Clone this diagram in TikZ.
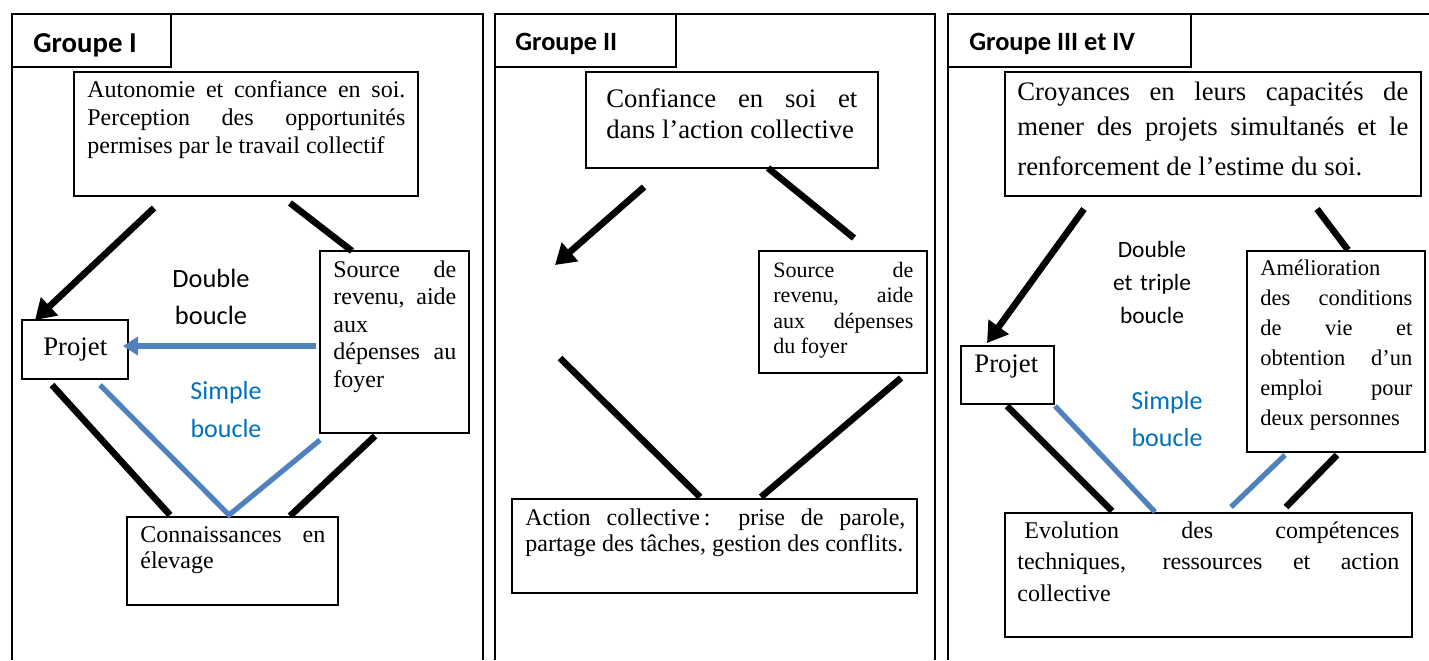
\documentclass[tikz,border=0pt]{standalone}
\usepackage{fontspec}
\setmainfont{Liberation Serif}
\newfontfamily\carlito{Carlito}
\usetikzlibrary{arrows.meta,fit}
\definecolor{lineblue}{HTML}{4F81BD}
\definecolor{textblue}{HTML}{0070C0}
\hyphenpenalty=10000 \exhyphenpenalty=10000 \tolerance=10000 \hbadness=10000
\tikzset{
  frameline/.style={line width=0.75pt},
  boxst/.style={draw, line width=0.8pt, inner sep=0pt, outer sep=0pt},
  txt/.style={anchor=base west, inner sep=0pt, align=justify},
  titletxt/.style={anchor=base west, inner sep=0pt, font={\carlito\bfseries\fontsize{13.2}{16}\selectfont}},
  lbl/.style={anchor=base, inner sep=0pt, align=center, text width=60pt},
  conn/.style={line width=3.3pt},
  bconn/.style={line width=2.6pt, draw=lineblue},
  arr/.style={conn, -{Triangle[length=10pt,width=12pt]}},
  barr/.style={bconn, -{Triangle[length=7.5pt,width=9pt]}},
}
\begin{document}
\begin{tikzpicture}[x=0.5pt,y=-0.5pt]
\useasboundingbox (0,0) rectangle (1429,660);
\fill[white] (0,0) rectangle (1429,660);

% ---------- panel frames ----------
\draw[frameline] (12,660) -- (12,14) -- (483,14) -- (483,660);
\draw[frameline] (495,660) -- (495,14) -- (935,14) -- (935,660);
\draw[frameline] (948,660) -- (948,14) -- (1432,14);

% ---------- Groupe I ----------
\node[boxst, fit={(12,14) (171,67)}] (t1) {};
\node[titletxt, font={\carlito\bfseries\fontsize{14.4}{17}\selectfont}] (t1l) at (33,52) {Groupe I};

\node[boxst, fit={(74,72) (418,196)}] (A1) {};
\node[txt, text width=159pt, font={\fontsize{12}{14}\selectfont}] (A1l) at (87,97)
  {Autonomie et confiance en soi.\linebreak Perception des opportunités\linebreak permises par le travail collectif};

\node[boxst, fit={(320,251) (469,433)}] (S1) {};
\node[txt, text width=61.5pt, font={\fontsize{12}{13.75}\selectfont}] (S1l) at (333,277)
  {Source de\linebreak revenu, aide\linebreak aux\linebreak dépenses au\linebreak foyer};

\node[boxst, fit={(22,320) (128,379)}] (P1) {};
\node[txt, font={\fontsize{13.35}{15}\selectfont}] (P1l) at (43,355) {Projet};

\node[boxst, fit={(127,517) (338,605)}] (C1) {};
\node[txt, text width=92.5pt, font={\fontsize{12}{13}\selectfont}] (C1l) at (140,542)
  {Connaissances en\linebreak élevage};

\node[lbl, font={\carlito\fontsize{13.2}{18.5}\selectfont}] (D1) at (211,287) {Double\\boucle};
\node[lbl, text=textblue, font={\carlito\fontsize{13}{19}\selectfont}] (B1) at (226,399) {Simple\\boucle};

\coordinate (g1a) at (154,208); \coordinate (g1b) at (35,320);
\coordinate (g1c) at (290,203); \coordinate (g1d) at (352,251);
\coordinate (g1e) at (316,346); \coordinate (g1f) at (123,346);
\coordinate (g1g) at (52,385);  \coordinate (g1h) at (170,515);
\coordinate (g1i) at (100,385); \coordinate (g1j) at (229,515); \coordinate (g1k) at (320,440);
\coordinate (g1l) at (375,436); \coordinate (g1m) at (290,516);
\draw[arr] (g1a) -- (g1b);
\draw[conn] (g1c) -- (g1d);
\draw[barr] (g1e) -- (g1f);
\draw[conn] (g1g) -- (g1h);
\draw[bconn] (g1i) -- (g1j) -- (g1k);
\draw[conn] (g1l) -- (g1m);

% ---------- Groupe II ----------
\node[boxst, fit={(495,14) (676,67)}] (t2) {};
\node[titletxt] (t2l) at (515,50) {Groupe II};

\node[boxst, fit={(586,72) (878,168)}] (T2) {};
\node[txt, text width=125.5pt, font={\fontsize{13.35}{15.5}\selectfont}] (T2l) at (606,107)
  {Confiance en soi et\linebreak dans l’action collective};

\node[boxst, fit={(759,251) (927,373)}] (S2) {};
\node[txt, text width=70pt, font={\fontsize{11}{12.75}\selectfont}] (S2l) at (773,277)
  {Source de\linebreak revenu, aide\linebreak aux dépenses\linebreak du foyer};

\node[boxst, fit={(512,499) (917,593)}] (B2) {};
\node[txt, text width=190pt, font={\fontsize{12}{13}\selectfont}] (B2l) at (525,525)
  {Action collective\,: prise de parole,\linebreak partage des tâches, gestion des conflits.};

\coordinate (g2a) at (644,187); \coordinate (g2b) at (555,265);
\coordinate (g2c) at (768,168); \coordinate (g2d) at (854,238);
\coordinate (g2e) at (560,358); \coordinate (g2f) at (700,497);
\coordinate (g2g) at (901,378); \coordinate (g2h) at (761,497);
\draw[arr] (g2a) -- (g2b);
\draw[conn] (g2c) -- (g2d);
\draw[conn] (g2e) -- (g2f);
\draw[conn] (g2g) -- (g2h);

% ---------- Groupe III et IV ----------
\node[boxst, fit={(948,14) (1191,67)}] (t3) {};
\node[titletxt] (t3l) at (969,50) {Groupe III et IV};

\node[boxst, fit={(1005,72) (1421,196)}] (T3) {};
\node[txt, text width=195.5pt, font={\fontsize{13.35}{17.5}\selectfont}] (T3l) at (1017,100)
  {Croyances en leurs capacités de\linebreak mener des projets simultanés et le\vspace{2.5pt}\linebreak renforcement de l’estime du soi.};

\node[boxst, fit={(1247,251) (1425,452)}] (Am3) {};
\node[txt, text width=76pt, font={\fontsize{11.25}{15}\selectfont}] (Am3l) at (1260,275)
  {Amélioration\linebreak des conditions\linebreak de vie et\linebreak obtention d’un\linebreak emploi pour\linebreak deux personnes};

\node[boxst, fit={(961,346) (1054,404)}] (P3) {};
\node[txt, font={\fontsize{13.35}{15}\selectfont}] (P3l) at (974,372) {Projet};

\node[boxst, fit={(1005,513) (1412,637)}] (E3) {};
\node[txt, text width=191pt, font={\fontsize{12}{15.75}\selectfont}] (E3l) at (1017,538)
  {\hspace*{3.5pt}Evolution des compétences\linebreak techniques, ressources et action\linebreak collective};

\node[lbl, font={\carlito\fontsize{11.7}{16.5}\selectfont}] (D3) at (1152,257) {Double\\et triple\\boucle};
\node[lbl, text=textblue, font={\carlito\fontsize{13}{18.5}\selectfont}] (B3) at (1167,409) {Simple\\boucle};

\coordinate (g3a) at (1084,209); \coordinate (g3b) at (987,343);
\coordinate (g3c) at (1317,209); \coordinate (g3d) at (1348,250);
\coordinate (g3e) at (1007,406); \coordinate (g3f) at (1112,511);
\coordinate (g3g) at (1055,406); \coordinate (g3h) at (1155,512);
\coordinate (g3i) at (1285,455); \coordinate (g3j) at (1231,507);
\coordinate (g3k) at (1337,455); \coordinate (g3l) at (1286,507);
\draw[arr] (g3a) -- (g3b);
\draw[conn] (g3c) -- (g3d);
\draw[conn] (g3e) -- (g3f);
\draw[bconn] (g3g) -- (g3h);
\draw[bconn] (g3i) -- (g3j);
\draw[conn] (g3k) -- (g3l);
\end{tikzpicture}
\end{document}
